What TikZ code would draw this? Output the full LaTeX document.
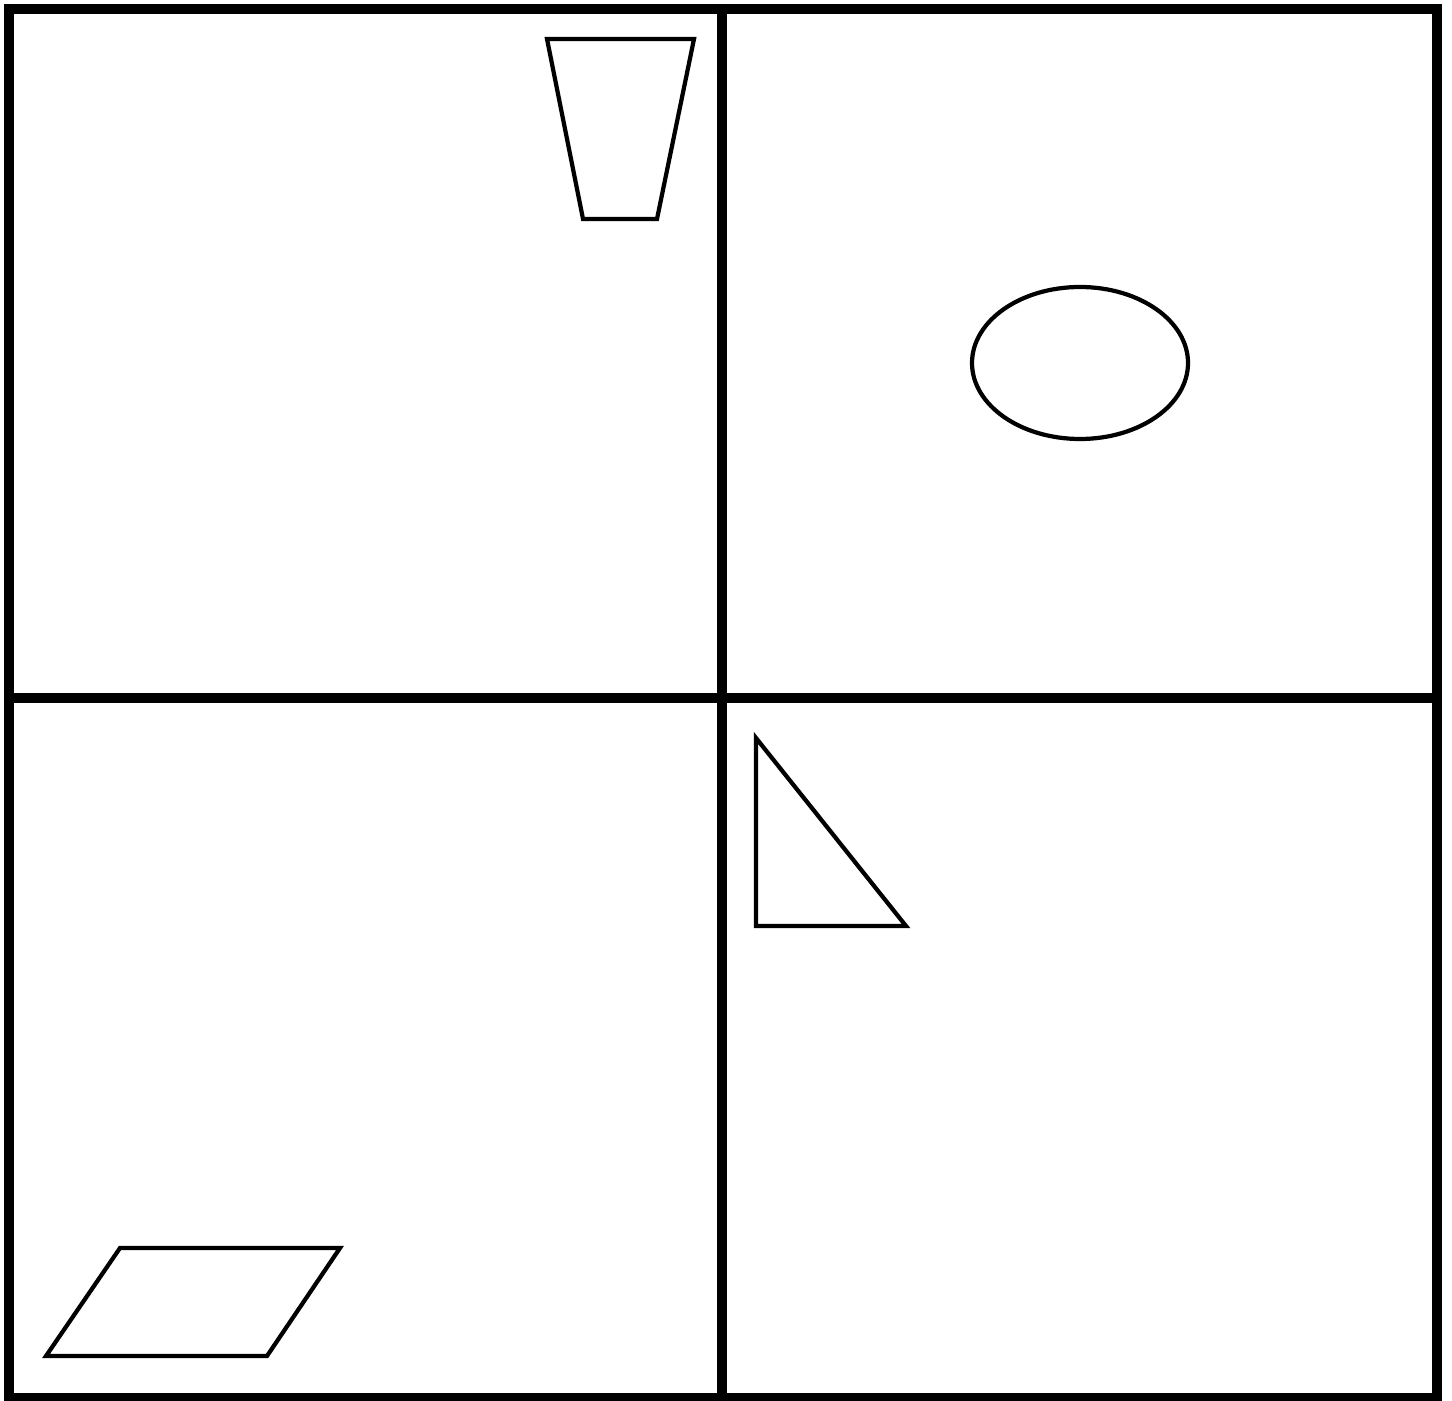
\documentclass[tikz,border=0pt]{standalone}
\usetikzlibrary{calc}

\tikzset{
  frameline/.style={line width=3pt, line cap=rect},
  shapeline/.style={line width=1.2pt, line join=miter},
}

\begin{document}
\begin{tikzpicture}[x=0.01cm, y=-0.01cm]
  \useasboundingbox (0,0) rectangle (1452,1401);
  % outer frame and the cross that splits it in four
  \coordinate (tl) at (9,9);
  \coordinate (br) at (1437,1398);
  \draw[frameline] (tl) rectangle (br);
  \draw[frameline] (722,9) -- (722,1398);
  \draw[frameline] (9,698) -- (1437,698);
  % top left: trapezoid
  \draw[shapeline] (547,39) -- (694,39) -- (657,219) -- (583,219) -- cycle;
  % top right: ellipse
  \draw[shapeline] (1080,363) ellipse [x radius=108, y radius=76];
  % bottom right: right triangle
  \draw[shapeline] (756,738) -- (756,926) -- (906,926) -- cycle;
  % bottom left: parallelogram
  \draw[shapeline] (120,1248) -- (340,1248) -- (267,1356) -- (46,1356) -- cycle;
\end{tikzpicture}
\end{document}
